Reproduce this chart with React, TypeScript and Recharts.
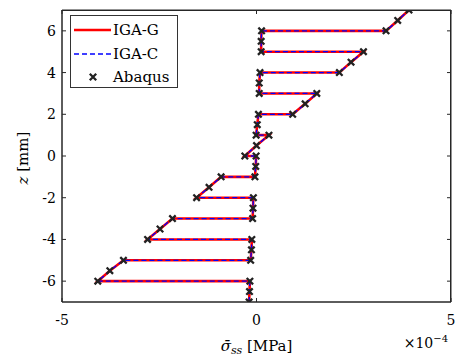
import React from 'react';
import { LineChart, Line, XAxis, YAxis, Legend, CartesianGrid } from 'recharts';

// z coordinate through thickness [mm]
const zValues = [-7, -6.5, -6, -6, -5.5, -5, -5, -4.5, -4, -4, -3.5, -3, -3, -2.5, -2, -2, -1.5, -1, -1, -0.5, 0, 0, 0.5, 1, 1, 1.5, 2, 2, 2.5, 3, 3, 3.5, 4, 4, 4.5, 5, 5, 5.5, 6, 6, 6.5, 7];
// stress values in units of 1e-4 MPa
const igaG = [-0.19, -0.18, -0.17, -4.08, -3.77, -3.42, -0.15, -0.13, -0.12, -2.8, -2.48, -2.16, -0.1, -0.09, -0.08, -1.54, -1.22, -0.91, -0.04, -0.02, -0.01, -0.3, 0.0, 0.32, -0.01, 0.02, 0.05, 0.93, 1.25, 1.55, 0.07, 0.07, 0.09, 2.13, 2.43, 2.75, 0.12, 0.12, 0.13, 3.33, 3.63, 3.92];
const igaC = [-0.19, -0.18, -0.17, -4.08, -3.77, -3.42, -0.15, -0.13, -0.12, -2.8, -2.48, -2.16, -0.1, -0.09, -0.08, -1.54, -1.22, -0.91, -0.04, -0.02, -0.01, -0.3, 0.0, 0.32, -0.01, 0.02, 0.05, 0.93, 1.25, 1.55, 0.07, 0.07, 0.09, 2.13, 2.43, 2.75, 0.12, 0.12, 0.13, 3.33, 3.63, 3.92];
const abaqus = [-0.19, -0.18, -0.17, -4.08, -3.77, -3.42, -0.15, -0.13, -0.12, -2.8, -2.48, -2.16, -0.1, -0.09, -0.08, -1.54, -1.22, -0.91, -0.04, -0.02, -0.01, -0.3, 0.0, 0.32, -0.01, 0.02, 0.05, 0.93, 1.25, 1.55, 0.07, 0.07, 0.09, 2.13, 2.43, 2.75, 0.12, 0.12, 0.13, 3.33, 3.63, 3.92];

const xTicks = [-5, 0, 5];
const yTicks = [-6, -4, -2, 0, 2, 4, 6];

const data = zValues.map((z, i) => ({ z, g: igaG[i], c: igaC[i], a: abaqus[i] }));

const FONT = '"DejaVu Serif", serif';
const AXIS = '#262626';
const CHART_W = 455;
const CHART_H = 359;
const MARGIN = { top: 10, right: 4, left: 0, bottom: 0 };
const Y_AXIS_W = 62;
const X_AXIS_H = 57;
const TICK_LEN = 4;

const Cross = (props: any) => {
  const { cx, cy } = props;
  if (cx == null || cy == null) return null;
  const r = 3.2;
  return (
    <path
      d={`M${cx - r},${cy - r}L${cx + r},${cy + r}M${cx - r},${cy + r}L${cx + r},${cy - r}`}
      stroke="#222"
      strokeWidth={2.3}
      fill="none"
    />
  );
};

// bottom tick label + mirrored tick at the top frame
const XTick = (props: any) => {
  const { x, y, payload } = props;
  const top = MARGIN.top;
  return (
    <g>
      <line x1={x} y1={top} x2={x} y2={top + TICK_LEN} stroke={AXIS} strokeWidth={1} />
      <text x={x} y={y} dy="0.71em" textAnchor="middle" fill="#000" fontSize={14} fontFamily={FONT}>
        {payload.value}
      </text>
    </g>
  );
};

// left tick label + mirrored tick at the right frame
const YTick = (props: any) => {
  const { x, y, payload } = props;
  const right = CHART_W - MARGIN.right;
  return (
    <g>
      <line x1={right} y1={y} x2={right - TICK_LEN} y2={y} stroke={AXIS} strokeWidth={1} />
      <text x={x} y={y} dy="0.355em" textAnchor="end" fill="#000" fontSize={14} fontFamily={FONT}>
        {payload.value}
      </text>
    </g>
  );
};

const LegendBox = () => (
  <div
    style={{
      width: 106,
      height: 71,
      border: '1px solid #333',
      background: '#fff',
      fontFamily: FONT,
      fontSize: 15,
      color: '#000',
      position: 'relative',
    }}
  >
    {[
      { label: 'IGA-G', kind: 'g' },
      { label: 'IGA-C', kind: 'c' },
      { label: 'Abaqus', kind: 'a' },
    ].map((it, i) => (
      <div key={it.label} style={{ position: 'absolute', left: 0, top: 2 + i * 23.5, height: 22, width: 106 }}>
        <svg width={40} height={22} style={{ position: 'absolute', left: 2, top: 0 }}>
          {it.kind === 'g' && <line x1={1} y1={12} x2={38} y2={12} stroke="#ff0000" strokeWidth={2.6} />}
          {it.kind === 'c' && <line x1={1} y1={12} x2={38} y2={12} stroke="#0000ff" strokeWidth={1.3} strokeDasharray="5 3" />}
          {it.kind === 'a' && <Cross cx={20} cy={12} />}
        </svg>
        <span style={{ position: 'absolute', left: 42, top: 2, lineHeight: '20px', whiteSpace: 'nowrap' }}>{it.label}</span>
      </div>
    ))}
  </div>
);

const XLabel = (props: any) => {
  const vb = props.viewBox || {};
  const cx = vb.x + vb.width / 2;
  const right = vb.x + vb.width;
  return (
    <g fontFamily={FONT} fill="#000">
      <text x={cx} y={351} textAnchor="middle" fontSize={15}>
        <tspan fontStyle="italic">σ̄</tspan>
        <tspan fontStyle="italic" fontSize={11} dy={3}>ss</tspan>
        <tspan dy={-3}> [MPa]</tspan>
      </text>
      <text x={right - 3} y={348} textAnchor="end" fontSize={14}>
        <tspan>×10</tspan>
        <tspan fontSize={10} dy={-6}>−4</tspan>
      </text>
    </g>
  );
};

const YLabel = () => (
  <text
    x={28}
    y={158}
    transform="rotate(-90 28 158)"
    textAnchor="middle"
    fontFamily={FONT}
    fontSize={15}
    fill="#000"
  >
    <tspan fontStyle="italic">z</tspan>
    <tspan> [mm]</tspan>
  </text>
);

const hFrame = (p: any) => {
  const o = p && p.offset;
  if (o && o.top != null) return [o.top, o.top + o.height];
  return [MARGIN.top, CHART_H - X_AXIS_H];
};
const vFrame = (p: any) => {
  const o = p && p.offset;
  if (o && o.left != null) return [o.left, o.left + o.width];
  return [Y_AXIS_W, CHART_W - MARGIN.right];
};

export default function App() {
  const plotLeft = MARGIN.left + Y_AXIS_W;
  const plotTop = MARGIN.top;
  const plotW = CHART_W - MARGIN.right - plotLeft;
  const plotH = CHART_H - MARGIN.bottom - X_AXIS_H - plotTop;
  return (
    <div style={{ position: 'absolute', left: 0, top: 0, width: CHART_W, height: CHART_H, background: '#fff' }}>
      <LineChart width={CHART_W} height={CHART_H} data={data} layout="vertical" margin={MARGIN}>
        <CartesianGrid
          stroke={AXIS}
          strokeDasharray="0"
          horizontalCoordinatesGenerator={hFrame}
          verticalCoordinatesGenerator={vFrame}
        />
        <XAxis
          type="number"
          domain={[-5, 5]}
          ticks={xTicks}
          allowDataOverflow
          height={X_AXIS_H}
          stroke={AXIS}
          tickSize={-TICK_LEN}
          tickMargin={17}
          tick={<XTick />}
          label={{ content: (p: any) => <XLabel {...p} /> }}
        />
        <YAxis
          type="number"
          dataKey="z"
          reversed
          domain={[-7, 7]}
          ticks={yTicks}
          allowDataOverflow
          width={Y_AXIS_W}
          stroke={AXIS}
          tickSize={-TICK_LEN}
          tickMargin={10}
          tick={<YTick />}
          label={{ content: () => <YLabel /> }}
        />
        <Line
          dataKey="g"
          name="IGA-G"
          stroke="#ff0000"
          strokeWidth={2.6}
          dot={false}
          activeDot={false}
          isAnimationActive={false}
        />
        <Line
          dataKey="c"
          name="IGA-C"
          stroke="#0000ff"
          strokeWidth={1.3}
          strokeDasharray="5 3"
          dot={false}
          activeDot={false}
          isAnimationActive={false}
        />
        <Line
          dataKey="a"
          name="Abaqus"
          stroke="none"
          dot={<Cross />}
          activeDot={false}
          isAnimationActive={false}
        />
        <Legend
          layout="horizontal"
          verticalAlign="middle"
          align="center"
          content={() => <LegendBox />}
          wrapperStyle={{ left: 70, top: 15, width: 'auto', height: 'auto' }}
        />
      </LineChart>
      <div
        style={{
          position: 'absolute',
          left: plotLeft,
          top: plotTop,
          width: plotW,
          height: plotH,
          borderTop: `1px solid ${AXIS}`,
          borderRight: `1px solid ${AXIS}`,
          boxSizing: 'border-box',
          pointerEvents: 'none',
        }}
      />
    </div>
  );
}
